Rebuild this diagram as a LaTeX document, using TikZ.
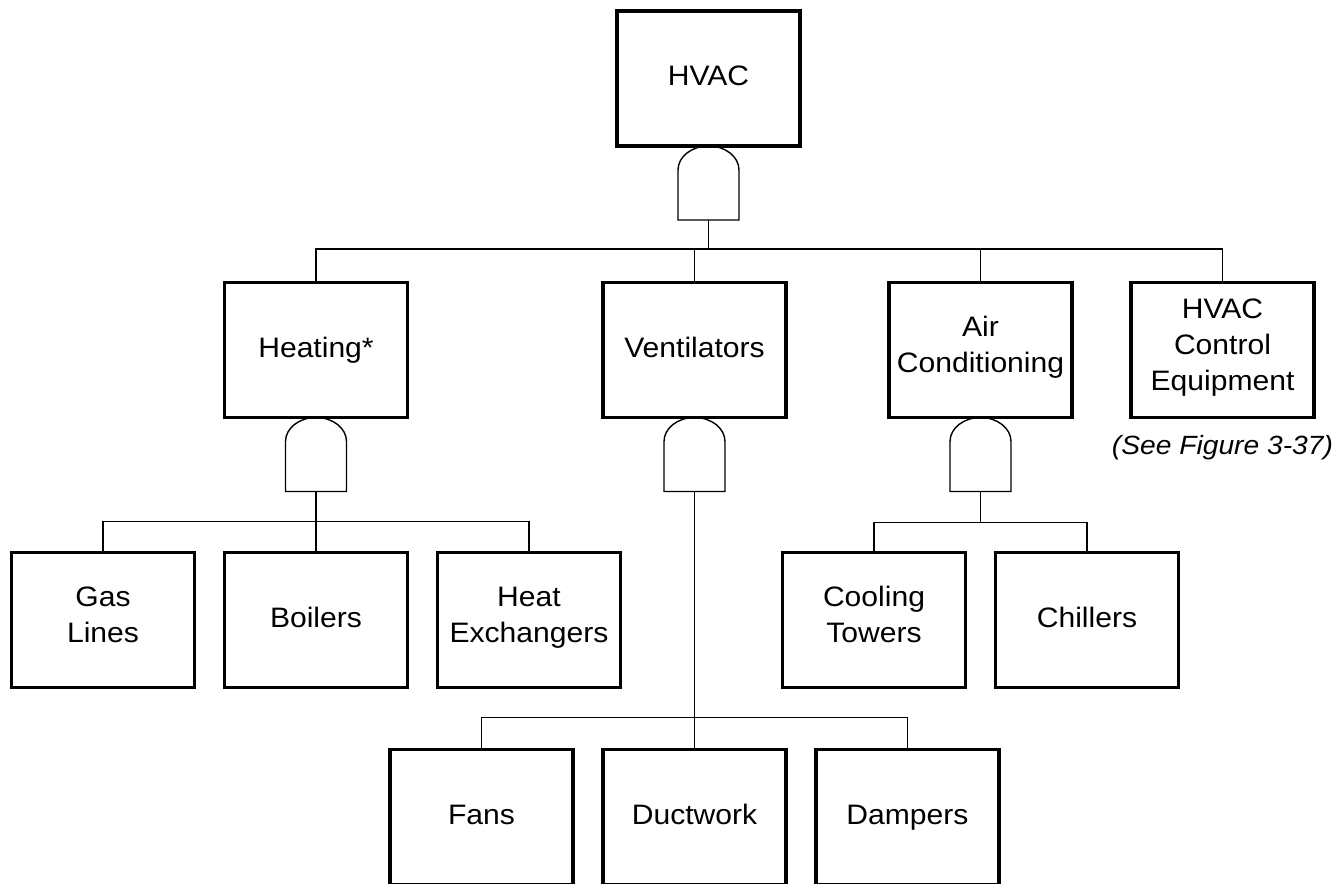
\documentclass[tikz,border=0pt]{standalone}
\usepackage{fontspec}
\setmainfont{Liberation Sans}[FakeStretch=1.07]
\usetikzlibrary{positioning}

\begin{document}
\begin{tikzpicture}[
  unitbox/.style={rectangle, draw=black, line width=2.2pt, minimum width=3.66cm,
    minimum height=2.7cm, inner sep=0pt, outer sep=0pt, align=center,
    font=\fontsize{16}{20.5}\selectfont,
    execute at begin node=\strut, execute at end node=\strut},
  andgate/.style={minimum width=1.22cm, minimum height=1.48cm, inner sep=0pt, outer sep=0pt},
  gateline/.style={draw=black, line width=0.8pt},
  link/.style={draw=black, line width=0.8pt}]
\useasboundingbox (0,0) rectangle (26.76,17.68);

% top event and its gate
\node[unitbox] (hvac) at (14.17,16.11) {HVAC};
\node[andgate, below=0pt of hvac] (gTop) {};

% second level
\node[unitbox] (heating) at (6.32,10.68) {Heating*};
\node[unitbox] (vent) at (13.89,10.68) {Ventilators};
\node[unitbox] (aircond) at (19.61,10.68) {Air\\Conditioning};
\node[unitbox] (control) at (24.45,10.68) {HVAC\\Control\\Equipment};
\node[font=\itshape\fontsize{15}{18}\selectfont, below=0.6cm of control, anchor=center] (seefig) {(See Figure 3-37)};

\node[andgate, below=0pt of heating] (gHeat) {};
\node[andgate, below=0pt of vent] (gVent) {};
\node[andgate, below=0pt of aircond] (gAir) {};

% heating branch
\node[unitbox, below=2.7cm of heating] (boilers) {Boilers};
\node[unitbox, left=0.6cm of boilers] (gas) {Gas\\Lines};
\node[unitbox, right=0.6cm of boilers] (heatex) {Heat\\Exchangers};

% air conditioning branch
\node[unitbox, below=2.7cm of aircond, xshift=-2.13cm] (cooling) {Cooling\\Towers};
\node[unitbox, right=0.6cm of cooling] (chillers) {Chillers};

% ventilator branch
\node[unitbox, below=6.64cm of vent] (duct) {Ductwork};
\node[unitbox, left=0.6cm of duct] (fans) {Fans};
\node[unitbox, right=0.6cm of duct] (dampers) {Dampers};

% AND gates
\foreach \g in {gTop,gHeat,gVent,gAir}
  \draw[gateline] (\g.south west) -- ++(0,1.0)
    arc[start angle=180, end angle=0, x radius=0.61cm, y radius=0.48cm]
    -- (\g.south east) -- cycle;

% connectors
\foreach \c in {heating,vent,aircond,control}
  \draw[link] (gTop.south) -- ++(0,-0.58) -| (\c.north);
\foreach \c in {gas,boilers,heatex}
  \draw[link] (gHeat.south) -- ++(0,-0.6) -| (\c.north);
\foreach \c in {cooling,chillers}
  \draw[link] (gAir.south) -- ++(0,-0.62) -| (\c.north);
\foreach \c in {fans,duct,dampers}
  \draw[link] (gVent.south) -- ++(0,-4.52) -| (\c.north);
\end{tikzpicture}
\end{document}
